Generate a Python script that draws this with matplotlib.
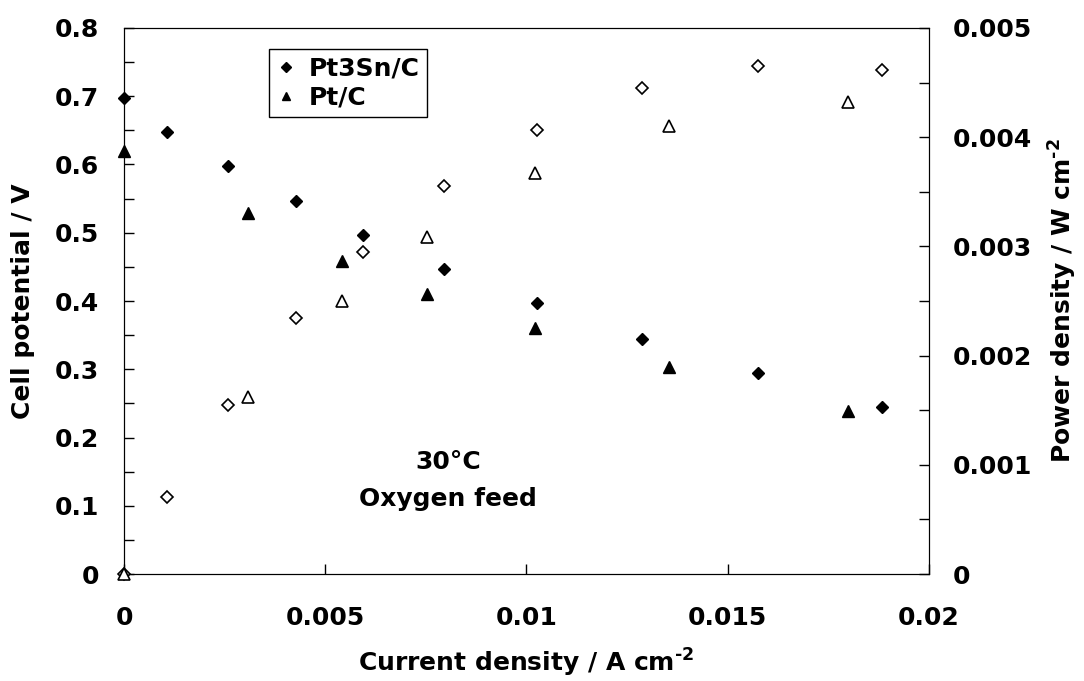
import numpy as np
import matplotlib
matplotlib.use('Agg')
import matplotlib.pyplot as plt
from matplotlib.ticker import MultipleLocator

plt.rcParams['font.family'] = ['DejaVu Sans']
plt.rcParams['font.weight'] = 'bold'
plt.rcParams['mathtext.fontset'] = 'custom'
plt.rcParams['mathtext.rm'] = 'DejaVu Sans:bold'
plt.rcParams['mathtext.bf'] = 'DejaVu Sans:bold'
plt.rcParams['mathtext.default'] = 'bf'

# Pt3Sn/C
ptsn_current = [0, 0.00108, 0.00258, 0.00427, 0.00593, 0.00795, 0.01027, 0.01288, 0.01576, 0.01884]
ptsn_potential = [0.698, 0.648, 0.598, 0.547, 0.497, 0.447, 0.397, 0.345, 0.295, 0.245]
ptsn_power = [0, 0.000708, 0.00155, 0.00234, 0.002946, 0.00355, 0.00407, 0.00445, 0.004655, 0.004615]

# Pt/C
pt_current = [0, 0.00307, 0.00542, 0.00754, 0.0102, 0.01355, 0.018]
pt_potential = [0.62, 0.529, 0.459, 0.41, 0.36, 0.303, 0.239]
pt_power = [0, 0.00162, 0.0025, 0.00309, 0.003675, 0.0041, 0.00432]

x_ticks = [0, 0.005, 0.01, 0.015, 0.02]
x_labels = ['0', '0.005', '0.01', '0.015', '0.02']
y1_ticks = [0, 0.1, 0.2, 0.3, 0.4, 0.5, 0.6, 0.7, 0.8]
y1_labels = ['0', '0.1', '0.2', '0.3', '0.4', '0.5', '0.6', '0.7', '0.8']
y2_ticks = [0, 0.001, 0.002, 0.003, 0.004, 0.005]
y2_labels = ['0', '0.001', '0.002', '0.003', '0.004', '0.005']

fig = plt.figure(figsize=(10.84, 6.81), dpi=100)
ax1 = fig.add_axes([0.1144, 0.157, 0.7426, 0.802])

ax1.plot(ptsn_current, ptsn_potential, 'D', color='black', ms=6, label='Pt3Sn/C', clip_on=False, zorder=5)
ax1.plot(pt_current, pt_potential, '^', color='black', ms=8, label='Pt/C', clip_on=False, zorder=5)

ax1.set_xlim(0, 0.02)
ax1.set_ylim(0, 0.8)
ax1.set_xticks(x_ticks)
ax1.set_xticklabels(x_labels)
ax1.set_yticks(y1_ticks)
ax1.set_yticklabels(y1_labels)
ax1.yaxis.set_minor_locator(MultipleLocator(0.05))
ax1.tick_params(axis='both', which='both', direction='in', length=7, width=1, labelsize=18)
ax1.tick_params(axis='x', pad=23)
ax1.tick_params(axis='y', pad=18)
ax1.set_xlabel(r'Current density / A cm$^{\text{-2}}$', fontsize=18, fontweight='bold', labelpad=12)
ax1.set_ylabel('Cell potential / V', fontsize=18, fontweight='bold', labelpad=14)

ax2 = ax1.twinx()
ax2.plot(ptsn_current, ptsn_power, 'D', mfc='white', mec='black', mew=1.2, ms=6, clip_on=False, zorder=5)
ax2.plot(pt_current, pt_power, '^', mfc='white', mec='black', mew=1.2, ms=8, clip_on=False, zorder=5)
ax2.set_ylim(0, 0.005)
ax2.set_yticks(y2_ticks)
ax2.set_yticklabels(y2_labels)
ax2.yaxis.set_minor_locator(MultipleLocator(0.0005))
ax2.tick_params(axis='y', which='both', direction='in', length=7, width=1, labelsize=18, pad=17)
ax2.set_ylabel(r'Power density / W cm$^{\text{-2}}$', fontsize=18, fontweight='bold', labelpad=11)

leg = ax1.legend(loc='upper left', bbox_to_anchor=(0.18, 0.9615), borderaxespad=0, fontsize=18,
                 frameon=True, fancybox=False, shadow=False, handlelength=0.8, handletextpad=0.5,
                 borderpad=0.3, labelspacing=0.2, markerscale=0.8)
leg.get_frame().set_edgecolor('black')
leg.get_frame().set_linewidth(1)
leg.get_frame().set_alpha(1)

ax1.text(0.00805, 0.164, '30°C', fontsize=18, fontweight='bold', ha='center', va='center')
ax1.text(0.00805, 0.11, 'Oxygen feed', fontsize=18, fontweight='bold', ha='center', va='center')

fig.savefig('out.png', dpi=100)
